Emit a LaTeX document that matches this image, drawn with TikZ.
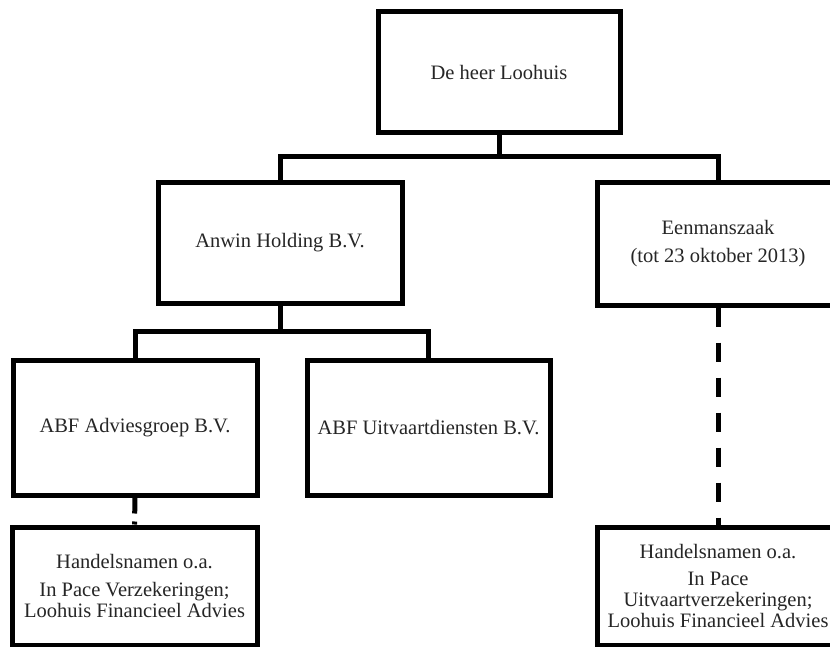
\documentclass[tikz,border=0pt]{standalone}
\usepackage{fontspec}
\setmainfont{Liberation Serif}
\begin{document}
\begin{tikzpicture}[x=1pt,y=-1pt,
  box/.style={draw=black, line width=5pt, fill=white, rectangle, align=center,
    inner sep=0pt, font=\fontsize{20.5}{21}\selectfont, text=black!85},
  conn/.style={draw=black, line width=5pt, line join=miter},
  dashA/.style={conn, dash pattern=on 16pt off 8pt},
  dashB/.style={conn, dash pattern=on 19pt off 16pt}]
\fill[white] (0,0) rectangle (830,647);
\useasboundingbox (0,0) rectangle (830,647);

\node[box, minimum width=242pt, minimum height=121pt] (top) at (499,72.5) {De heer Loohuis};
\node[box, minimum width=244pt, minimum height=120pt] (anwin) at (280,243) {Anwin Holding B.V.};
\node[box, minimum width=242pt, minimum height=122pt] (een) at (718,244) {Eenmanszaak\\[7pt](tot 23 oktober 2013)};
\node[box, minimum width=244pt, minimum height=135pt] (abfa) at (135,427.5) {ABF Adviesgroep B.V.};
\node[box, minimum width=243pt, minimum height=135pt] (abfu) at (428.5,427.5) {ABF Uitvaartdiensten B.V.};
\node[box, minimum width=245pt, minimum height=118pt] (hl) at (134.5,586) {Handelsnamen o.a.\\[7pt]In Pace Verzekeringen;\\Loohuis Financieel Advies};
\node[box, minimum width=242pt, minimum height=118pt] (hr) at (718,586) {Handelsnamen o.a.\\[6pt]In Pace\\Uitvaartverzekeringen;\\Loohuis Financieel Advies};

\coordinate (bus1) at (499,157);
\coordinate (bus2) at (280,331);

\draw[conn] (top.south) -- (bus1);
\draw[conn] (anwin.north) |- (bus1) -| (een.north);
\draw[conn] (anwin.south) -- (bus2);
\draw[conn] (abfa.north) |- (bus2) -| (abfu.north);
\draw[dashA] (abfa.south) -- (hl.north);
\draw[dashB] (een.south) -- (hr.north);
\end{tikzpicture}
\end{document}
